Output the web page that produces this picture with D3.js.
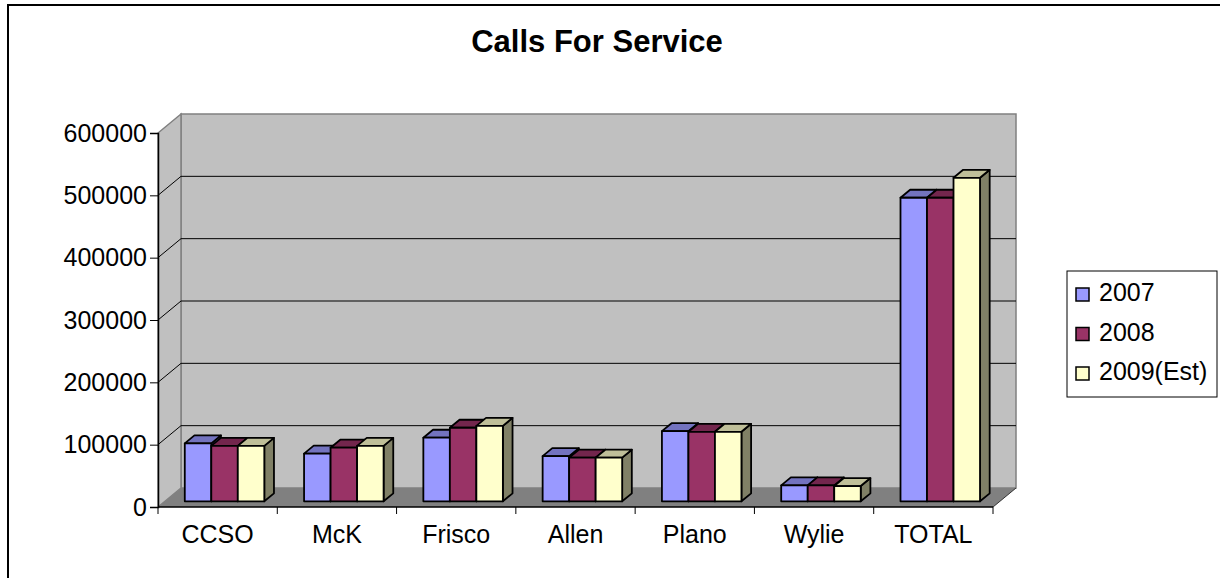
<!DOCTYPE html>
<html>
<head>
<meta charset="utf-8">
<script src="https://cdn.jsdelivr.net/npm/d3@7"></script>
<style>
    body { margin: 0; background: #fff; }
    text { font-family: "Liberation Sans", Arial, sans-serif; }
</style>
</head>
<body>
<svg id="chart" width="1220" height="578"></svg>
<script>
// chart data
const categories = ['CCSO', 'McK', 'Frisco', 'Allen', 'Plano', 'Wylie', 'TOTAL'];
const seriesNames = ['2007', '2008', '2009(Est)'];
const values2007 = [93000, 76500, 102000, 72500, 112500, 25500, 487000];
const values2008 = [89000, 86000, 118000, 70000, 111500, 25500, 487000];
const values2009 = [89000, 89000, 121000, 70000, 111500, 24500, 519000];
const yTicks = [0, 100000, 200000, 300000, 400000, 500000, 600000];
const seriesColors = ['#9999FF', '#993366', '#FFFFCC'];

const seriesValues = [values2007, values2008, values2009];

const svg = d3.select('#chart');

// plot geometry
const plotLeft = 158, plotRight = 993, plotBottom = 507, plotTop = 133;
const depthX = 23, depthY = -19;

const x0 = d3.scaleBand().domain(categories).range([plotLeft, plotRight]).paddingInner(0).paddingOuter(0);
const groupWidth = x0.bandwidth() * 2 / 3;
const x1 = d3.scaleBand().domain(seriesNames).range([0, groupWidth]);
const y = d3.scaleLinear().domain([0, 600000]).range([plotBottom, plotTop]);

// project a point at depth z (0 = front, 1 = back wall)
const proj = (px, py, z) => [px + depthX * z, py + depthY * z];
const pts = arr => arr.map(p => p.join(',')).join(' ');

const shade = (color, k) => {
    const c = d3.rgb(color);
    return d3.rgb(c.r * k, c.g * k, c.b * k).formatHex();
};

// outer frame
svg.append('rect')
    .attr('x', 8).attr('y', 5)
    .attr('width', 1240).attr('height', 600)
    .attr('fill', 'none').attr('stroke', '#000').attr('stroke-width', 2);

// title
svg.append('text')
    .attr('x', 597).attr('y', 52)
    .attr('text-anchor', 'middle')
    .attr('font-size', 31).attr('font-weight', 'bold')
    .text('Calls For Service');

// walls
const yMax = y.domain()[1];
svg.append('polygon')
    .attr('points', pts([proj(plotLeft, plotBottom, 1), proj(plotRight, plotBottom, 1), proj(plotRight, y(yMax), 1), proj(plotLeft, y(yMax), 1)]))
    .attr('fill', '#C0C0C0').attr('stroke', '#808080').attr('stroke-width', 1.5);
svg.append('polygon')
    .attr('points', pts([[plotLeft, plotBottom], [plotLeft, y(yMax)], proj(plotLeft, y(yMax), 1), proj(plotLeft, plotBottom, 1)]))
    .attr('fill', '#C0C0C0').attr('stroke', '#808080').attr('stroke-width', 1.5);

// gridlines on back and side wall
const gridTicks = yTicks.filter(t => t > 0 && t < yMax);
svg.selectAll('.grid-back')
    .data(gridTicks)
    .enter()
    .append('line')
    .attr('x1', d => proj(plotLeft, y(d), 1)[0]).attr('y1', d => proj(plotLeft, y(d), 1)[1])
    .attr('x2', d => proj(plotRight, y(d), 1)[0]).attr('y2', d => proj(plotRight, y(d), 1)[1])
    .attr('stroke', '#000').attr('stroke-width', 1);
svg.selectAll('.grid-side')
    .data(gridTicks)
    .enter()
    .append('line')
    .attr('x1', plotLeft).attr('y1', d => y(d))
    .attr('x2', d => proj(plotLeft, y(d), 1)[0]).attr('y2', d => proj(plotLeft, y(d), 1)[1])
    .attr('stroke', '#000').attr('stroke-width', 1);

// floor
svg.append('polygon')
    .attr('points', pts([[plotLeft, plotBottom], [plotRight, plotBottom], proj(plotRight, plotBottom, 1), proj(plotLeft, plotBottom, 1)]))
    .attr('fill', '#808080').attr('stroke', 'none');
svg.append('line')
    .attr('x1', plotRight).attr('y1', plotBottom)
    .attr('x2', proj(plotRight, plotBottom, 1)[0]).attr('y2', proj(plotRight, plotBottom, 1)[1])
    .attr('stroke', '#333').attr('stroke-width', 1);

// bars, drawn left to right so the next bar covers the hidden side face
const zFront = 0.3, zBack = 0.72;
const bars = [];
categories.forEach((cat, ci) => {
    seriesNames.forEach((s, si) => {
        bars.push({ cat, s, si, value: seriesValues[si][ci] });
    });
});

const barGroup = svg.append('g');
bars.forEach(d => {
    const xa = x0(d.cat) + (x0.bandwidth() - groupWidth) / 2 + x1(d.s);
    const xb = xa + x1.bandwidth();
    const yt = y(d.value), yb = y(0);
    const color = seriesColors[d.si];
    const g = barGroup.append('g')
        .attr('stroke', '#000').attr('stroke-width', 1.8).attr('stroke-linejoin', 'round');
    // right side face
    g.append('polygon')
        .attr('points', pts([proj(xb, yb, zFront), proj(xb, yb, zBack), proj(xb, yt, zBack), proj(xb, yt, zFront)]))
        .attr('fill', shade(color, 0.5));
    // top face
    g.append('polygon')
        .attr('points', pts([proj(xa, yt, zFront), proj(xb, yt, zFront), proj(xb, yt, zBack), proj(xa, yt, zBack)]))
        .attr('fill', shade(color, 0.75));
    // front face
    g.append('polygon')
        .attr('points', pts([proj(xa, yb, zFront), proj(xb, yb, zFront), proj(xb, yt, zFront), proj(xa, yt, zFront)]))
        .attr('fill', color);
});

// y axis
const yAxis = d3.axisLeft(y).tickValues(yTicks).tickSize(8).tickPadding(3).tickFormat(d3.format('d'));
const yG = svg.append('g').attr('transform', `translate(${plotLeft},0)`).call(yAxis);
yG.select('.domain').attr('stroke', '#000').attr('stroke-width', 1.5);
yG.selectAll('.tick line').attr('stroke', '#000');
yG.selectAll('.tick text')
    .attr('font-family', '"Liberation Sans", Arial, sans-serif')
    .attr('font-size', 25).attr('fill', '#000');

// x axis: ticks on category boundaries
svg.append('line')
    .attr('x1', plotLeft).attr('y1', plotBottom).attr('x2', plotRight).attr('y2', plotBottom)
    .attr('stroke', '#000').attr('stroke-width', 1.5);
const boundaries = categories.map(c => x0(c)).concat([plotRight]);
svg.selectAll('.xtick')
    .data(boundaries)
    .enter()
    .append('line')
    .attr('x1', d => d).attr('x2', d => d)
    .attr('y1', plotBottom).attr('y2', plotBottom + 7)
    .attr('stroke', '#000').attr('stroke-width', 1);
svg.selectAll('.xlabel')
    .data(categories)
    .enter()
    .append('text')
    .attr('x', d => x0(d) + x0.bandwidth() / 2)
    .attr('y', 543)
    .attr('text-anchor', 'middle')
    .attr('font-size', 25)
    .text(d => d);

// legend
const legend = svg.append('g');
legend.append('rect')
    .attr('x', 1067).attr('y', 271).attr('width', 150).attr('height', 126)
    .attr('fill', '#fff').attr('stroke', '#000').attr('stroke-width', 1);
const items = legend.selectAll('.item')
    .data(seriesNames)
    .enter()
    .append('g')
    .attr('transform', (d, i) => `translate(1076,${301 + i * 39.5})`);
items.append('rect')
    .attr('x', 0).attr('y', -13).attr('width', 13).attr('height', 13)
    .attr('fill', (d, i) => seriesColors[i])
    .attr('stroke', '#000').attr('stroke-width', 1.5);
items.append('text')
    .attr('x', 23).attr('y', 0)
    .attr('font-size', 25)
    .text(d => d);
</script>
</body>
</html>
